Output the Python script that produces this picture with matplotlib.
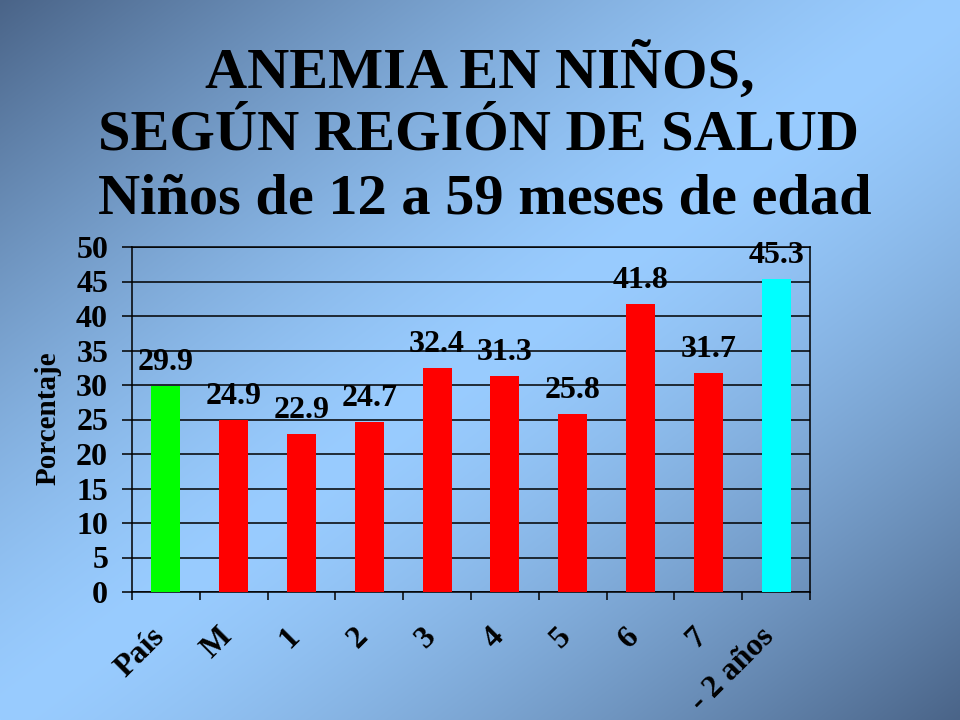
import numpy as np
import matplotlib
matplotlib.use("Agg")
import matplotlib.pyplot as plt
from matplotlib.transforms import ScaledTranslation

categories = ["País", "M", "1", "2", "3", "4", "5", "6", "7", "- 2 años"]
values = [29.9, 24.9, 22.9, 24.7, 32.4, 31.3, 25.8, 41.8, 31.7, 45.3]
colors = ["#00ff00"] + ["#ff0000"] * 8 + ["#00ffff"]
title_lines = ["ANEMIA EN NIÑOS,", "SEGÚN REGIÓN DE SALUD", "Niños de 12 a 59 meses de edad"]
ylabel = "Porcentaje"
yticks = list(range(0, 55, 5))

FONT = "Liberation Serif"
W, H = 960, 720
fig = plt.figure(figsize=(9.6, 7.2), dpi=100)

# background gradient: dark at TL and BR, light along anti-diagonal
xs = np.linspace(0, 1, W)
ys = np.linspace(0, 1, H)
X, Y = np.meshgrid(xs, ys)
s = X + Y
d = np.abs(s - 1.0)
frac = 1 - d ** 1.4
dark = np.array([0x4a, 0x64, 0x88]) / 255
light = np.array([0x99, 0xcc, 0xff]) / 255
img = dark[None, None, :] + frac[..., None] * (light - dark)[None, None, :]
bg = fig.add_axes([0, 0, 1, 1], zorder=0)
bg.imshow(img, aspect="auto", extent=[0, 1, 0, 1], origin="upper")
bg.axis("off")

ax = fig.add_axes([132 / W, 1 - 592 / H, (810 - 132) / W, (592 - 247) / H], zorder=1)
ax.patch.set_alpha(0)

x = np.arange(len(categories))
bars = ax.bar(x, values, width=0.43, color=colors, zorder=3)
ax.set_xlim(-0.5, len(categories) - 0.5)
ax.set_ylim(0, 50)
ax.set_yticks(yticks)
ax.yaxis.grid(True, color="black", linewidth=1.1, zorder=1)
ax.set_axisbelow(True)
for sp in ax.spines.values():
    sp.set_color("black")
    sp.set_linewidth(1.1)

ax.tick_params(axis="y", direction="out", length=7.2, width=1.1, pad=10.0,
               labelsize=23)
for lab in ax.get_yticklabels():
    lab.set_fontfamily(FONT)
    lab.set_fontweight("bold")

# x ticks at category boundaries, labels separately
ax.set_xticks(np.arange(-0.5, len(categories), 1.0))
ax.set_xticklabels([])
ax.tick_params(axis="x", direction="out", length=5.5, width=1.1)

off = ScaledTranslation(-16 / 100, -30 / 100, fig.dpi_scale_trans)
for xi, cat in zip(x, categories):
    ax.text(xi, 0, cat, transform=ax.get_xaxis_transform() + off,
            rotation=45, rotation_mode="anchor", ha="right", va="top",
            fontsize=23, fontweight="bold", family=FONT)

for xi, v in zip(x, values):
    ax.annotate(f"{v:.1f}", (xi, v), xytext=(0, 11.5), textcoords="offset points",
                ha="center", va="baseline", fontsize=23, fontweight="bold",
                family=FONT, zorder=5)

fig.text(48 / W, 1 - 418 / H, ylabel, rotation=90, ha="center", va="center",
         fontsize=21, fontweight="bold", family=FONT)

baselines = [88, 150, 213]
centers = [480, 479, 485]
for line, b, c in zip(title_lines, baselines, centers):
    fig.text(c / W, 1 - b / H, line, ha="center", va="baseline",
             fontsize=42, fontweight="bold", family=FONT)

fig.savefig("out.png", dpi=100)
